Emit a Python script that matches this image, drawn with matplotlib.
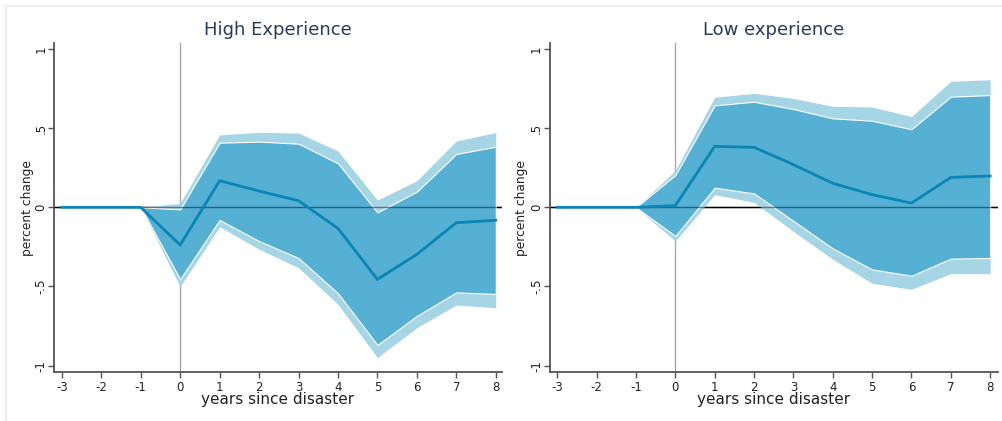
import matplotlib
matplotlib.use("Agg")
import matplotlib.pyplot as plt
from matplotlib.lines import Line2D

years = [-3, -2, -1, 0, 1, 2, 3, 4, 5, 6, 7, 8]
xtick_labels = ["-3", "-2", "-1", "0", "1", "2", "3", "4", "5", "6", "7", "8"]
ytick_values = [-1, -0.5, 0, 0.5, 1]
ytick_labels = ["-1", "-.5", "0", ".5", "1"]

titles = ["High Experience", "Low experience"]

# High experience
high_est = [0, 0, 0, -0.238, 0.168, 0.103, 0.042, -0.133, -0.455, -0.297, -0.097, -0.082]
high_in_hi = [0, 0, 0, -0.013, 0.408, 0.415, 0.402, 0.278, -0.032, 0.099, 0.337, 0.383]
high_in_lo = [0, 0, 0, -0.453, -0.080, -0.213, -0.320, -0.543, -0.869, -0.686, -0.537, -0.547]
high_out_hi = [0, 0, 0, 0.025, 0.457, 0.474, 0.469, 0.356, 0.046, 0.168, 0.419, 0.472]
high_out_lo = [0, 0, 0, -0.501, -0.122, -0.265, -0.381, -0.613, -0.949, -0.760, -0.617, -0.634]

# Low experience
low_est = [0, 0, 0, 0.011, 0.385, 0.379, 0.270, 0.152, 0.080, 0.027, 0.189, 0.198]
low_in_hi = [0, 0, 0, 0.204, 0.644, 0.667, 0.621, 0.562, 0.547, 0.493, 0.699, 0.709]
low_in_lo = [0, 0, 0, -0.181, 0.124, 0.088, -0.086, -0.259, -0.392, -0.432, -0.324, -0.320]
low_out_hi = [0, 0, 0, 0.232, 0.695, 0.720, 0.688, 0.638, 0.634, 0.573, 0.796, 0.806]
low_out_lo = [0, 0, 0, -0.213, 0.080, 0.032, -0.152, -0.328, -0.480, -0.518, -0.419, -0.419]

panels = [
    (high_est, high_in_lo, high_in_hi, high_out_lo, high_out_hi),
    (low_est, low_in_lo, low_in_hi, low_out_lo, low_out_hi),
]

W, H = 1003, 421
fig = plt.figure(figsize=(W / 100, H / 100), dpi=100)
fig.patch.set_facecolor("white")

# faint figure border
fig.add_artist(Line2D([6 / W, 1.0], [1 - 5.5 / H, 1 - 5.5 / H], transform=fig.transFigure,
                      color="#e6ecec", lw=1.2))
fig.add_artist(Line2D([6 / W, 6 / W], [0, 1 - 5.5 / H], transform=fig.transFigure,
                      color="#e6ecec", lw=1.2))

axes_px = [(54.3, 501.7), (550.0, 998.0)]
xlims = [(-3.19, 8.15), (-3.185, 8.2)]
ylabel_px = [28.0, 522.0]
top_px, bot_px = 43.3, 372.3

OUTER = "#a6d5e6"
INNER = "#55b0d3"
LINE = "#0a85b5"
TITLE_C = "#2a3a5e"
SPINE_C = "#555555"

for i, (est, ilo, ihi, olo, ohi) in enumerate(panels):
    l, r = axes_px[i]
    ax = fig.add_axes([l / W, 1 - bot_px / H, (r - l) / W, (bot_px - top_px) / H])
    ax.set_facecolor("white")
    ax.set_xlim(*xlims[i])
    ax.set_ylim(-1.042, 1.036)

    ax.axvline(0, color="#a8a8a8", lw=1.0, zorder=1)
    ax.axhline(0, color="black", lw=1.0, zorder=1)
    ax.fill_between(years, olo, ohi, color=OUTER, lw=0, zorder=2)
    ax.fill_between(years, ilo, ihi, color=INNER, edgecolor="white", lw=0.8, zorder=3)
    ax.axhline(0, color="black", lw=1.0, alpha=0.45, zorder=4)
    ax.plot(years, est, color=LINE, lw=2.0, zorder=5, solid_joinstyle="miter")

    for s in ["top", "right"]:
        ax.spines[s].set_visible(False)
    for s in ["left", "bottom"]:
        ax.spines[s].set_color(SPINE_C)
        ax.spines[s].set_linewidth(1.3)

    ax.set_xticks(years)
    ax.set_xticklabels(xtick_labels)
    ax.set_yticks(ytick_values)
    ax.set_yticklabels(ytick_labels, rotation=90, va="center")
    ax.tick_params(axis="both", direction="out", length=4, width=1, color=SPINE_C,
                   labelsize=8.5, labelcolor="#222222", pad=2)
    ax.tick_params(axis="y", pad=1)
    ax.set_xlabel("years since disaster", fontsize=11, color="#222222", labelpad=-1)
    ax.set_ylabel("percent change", fontsize=8.8, color="#222222")
    ax.yaxis.label.set_verticalalignment("center")
    ax.yaxis.set_label_coords((ylabel_px[i] - l) / (r - l), 0.5)
    ax.set_title(titles[i], fontsize=13, color=TITLE_C, pad=6)

fig.savefig("out.png", dpi=100, facecolor="white")
